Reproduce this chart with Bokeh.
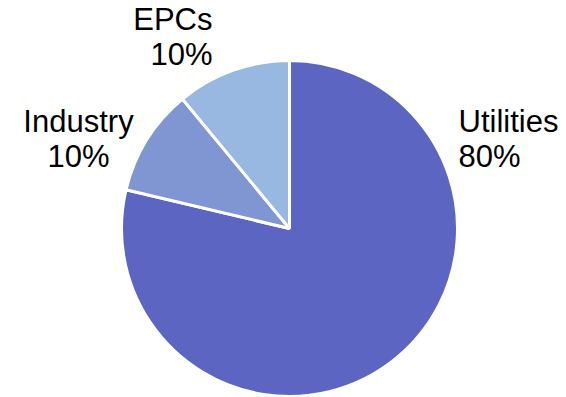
import numpy as np
from bokeh.plotting import figure
from bokeh.models import Range1d, ColumnDataSource
from bokeh.core.properties import value
from bokeh.embed import file_html
from bokeh.resources import INLINE

# data
categories = ["Utilities", "Industry", "EPCs"]
shares = [78.7, 10.3, 11.0]
label_pct = ["80%", "10%", "10%"]
colors = ["#5C66C2", "#7F96D2", "#98B8E2"]

W, H = 566, 397
p = figure(width=W, height=H, output_backend="svg", toolbar_location=None,
           x_range=Range1d(0, W), y_range=Range1d(0, H), min_border=0)
p.axis.visible = False
p.grid.visible = False
p.outline_line_color = None
p.background_fill_color = "white"

cx, cy, r = 289, H - 228, 168
frac = np.array(shares) / sum(shares)
cum = np.concatenate([[0], np.cumsum(frac)]) * 2 * np.pi
start = np.pi / 2 - cum[:-1]
end = np.pi / 2 - cum[1:]
src = ColumnDataSource(dict(cat=categories, start=start, end=end, color=colors))
p.wedge(x=cx, y=cy, radius=r, start_angle="start", end_angle="end",
        direction="clock", fill_color="color", line_color="white",
        line_width=3, source=src)

font = value("Liberation Sans")
fs = "31px"
shift = 11
layout = {
    "Utilities": (458, 132, "left"),
    "Industry": (78, 132, "center"),
    "EPCs": (212, 30, "right"),
}
for cat, pct in zip(categories, label_pct):
    x, y, al = layout[cat]
    p.text(x=[x], y=[H - y + shift], text=[cat], text_font=font, text_font_size=fs,
           text_align=al, text_baseline="alphabetic", text_color="black")
    p.text(x=[x], y=[H - y - 35 + shift], text=[pct], text_font=font, text_font_size=fs,
           text_align=al, text_baseline="alphabetic", text_color="black")

open("out.html", "w").write(file_html(p, INLINE))
